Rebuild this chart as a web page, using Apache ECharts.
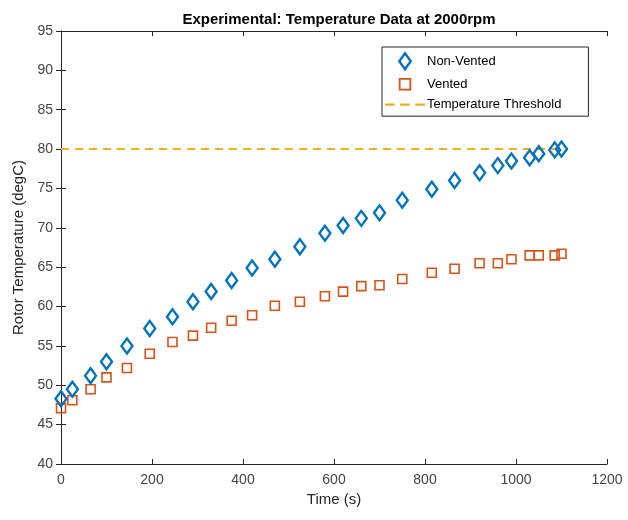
<!DOCTYPE html>
<html><head><meta charset="utf-8">
<script src="https://cdn.jsdelivr.net/npm/echarts@6/dist/echarts.min.js"></script>
<style>html,body{margin:0;padding:0;background:#fff}#c{width:628px;height:520px}</style>
</head><body><div id="c"></div>
<script>
const timeS = [0, 25, 65, 100, 145, 195, 245, 290, 330, 375, 420, 470, 525, 580, 620, 660, 700, 750, 815, 865, 920, 960, 990, 1030, 1050, 1085, 1100];
const nonVented = [48.3, 49.5, 51.2, 53.0, 55.0, 57.2, 58.7, 60.6, 61.9, 63.3, 64.9, 66.0, 67.6, 69.3, 70.3, 71.2, 71.9, 73.5, 74.9, 76.0, 77.0, 77.9, 78.5, 78.9, 79.4, 79.9, 80.0];
const vented = [47.1, 48.1, 49.5, 51.0, 52.2, 54.0, 55.5, 56.3, 57.3, 58.2, 58.9, 60.1, 60.6, 61.3, 61.9, 62.6, 62.7, 63.5, 64.3, 64.8, 65.5, 65.5, 66.0, 66.5, 66.5, 66.5, 66.7];
const thresholdX = [0, 1100];
const thresholdY = [80, 80];
const xTicks = [0, 200, 400, 600, 800, 1000, 1200];
const yTicks = [40, 45, 50, 55, 60, 65, 70, 75, 80, 85, 90, 95];

const FONT = 'Liberation Sans, Arial, sans-serif';
const AX = '#262626';
const chart = echarts.init(document.getElementById('c'));
const diamond = 'path://M5,0 L10,7 L5,14 L0,7 Z';
const legendSquare = 'path://M-2.5,-2.5 L-2.5,-2.5 M12.5,12.5 L12.5,12.5 M0,0 L10,0 L10,10 L0,10 Z';
const dashes = 'path://M0,0h9v2h-9z M14,0h9v2h-9z M28,0h9v2h-9z';
const pair = (xs, ys) => xs.map((x, i) => [x, ys[i]]);
const axisCommon = {
  axisLine: {show: true, lineStyle: {color: AX, width: 1}},
  axisTick: {show: true, inside: true, length: 5, lineStyle: {color: AX}},
  splitLine: {show: false}
};
chart.setOption({
  animation: false,
  backgroundColor: '#fff',
  title: {
    text: 'Experimental: Temperature Data at 2000rpm',
    left: 334, top: 7, textAlign: 'center',
    textStyle: {fontFamily: FONT, fontSize: 15, fontWeight: 'bold', color: '#000'}
  },
  grid: {left: 61, right: 21, top: 31, bottom: 56, containLabel: false},
  legend: {
    orient: 'vertical', left: 382, top: 47,
    backgroundColor: '#fff', borderColor: AX, borderWidth: 1,
    padding: [5, 27, 5, 3], itemGap: 5, itemWidth: 40, itemHeight: 16,
    textStyle: {fontFamily: FONT, fontSize: 13, color: '#000', padding: [0, 0, 0, -3]},
    data: [
      {name: 'Non-Vented', icon: diamond, itemStyle: {color: 'rgba(255,255,255,0)', borderColor: '#0072BD', borderWidth: 2.4, opacity: 1}},
      {name: 'Vented', icon: legendSquare, itemStyle: {color: 'rgba(255,255,255,0)', borderColor: '#D95319', borderWidth: 1.8, opacity: 1}},
      {name: 'Temperature Threshold', icon: dashes, itemStyle: {color: '#EDB120', borderWidth: 0}, lineStyle: {width: 0}}
    ]
  },
  xAxis: [
    Object.assign({type: 'value', min: 0, max: 1200, interval: 200, position: 'bottom',
      name: 'Time (s)', nameLocation: 'middle', nameGap: 28,
      nameTextStyle: {fontFamily: FONT, fontSize: 15, color: AX},
      axisLabel: {fontFamily: FONT, fontSize: 14, color: '#444', margin: 9,
        formatter: v => xTicks.includes(v) ? String(v) : ''}}, axisCommon),
    Object.assign({type: 'value', min: 0, max: 1200, interval: 200, position: 'top',
      axisLabel: {show: false}}, axisCommon)
  ],
  yAxis: [
    Object.assign({type: 'value', min: 40, max: 95, interval: 5, position: 'left',
      name: 'Rotor Temperature (degC)', nameLocation: 'middle', nameGap: 32,
      nameTextStyle: {fontFamily: FONT, fontSize: 15, color: AX},
      axisLabel: {fontFamily: FONT, fontSize: 14, color: '#444', margin: 8,
        formatter: v => yTicks.includes(v) ? String(v) : ''}}, axisCommon),
    Object.assign({type: 'value', min: 40, max: 95, interval: 5, position: 'right',
      axisLabel: {show: false}}, axisCommon)
  ],
  series: [
    {
      name: 'Temperature Threshold', type: 'line', data: pair(thresholdX, thresholdY),
      symbol: 'none', z: 1,
      lineStyle: {color: '#EDB120', width: 2, type: [8, 6]},
      itemStyle: {color: '#EDB120'}
    },
    {
      name: 'Non-Vented', type: 'scatter', data: pair(timeS, nonVented),
      symbol: diamond, symbolSize: [11, 15], z: 3,
      itemStyle: {color: 'rgba(255,255,255,0)', borderColor: '#0072BD', borderWidth: 2.4, opacity: 1}
    },
    {
      name: 'Vented', type: 'scatter', data: pair(timeS, vented),
      symbol: 'rect', symbolSize: 9, z: 2,
      itemStyle: {color: 'rgba(255,255,255,0)', borderColor: '#D95319', borderWidth: 1.6, opacity: 1}
    }
  ]
});
</script></body></html>
